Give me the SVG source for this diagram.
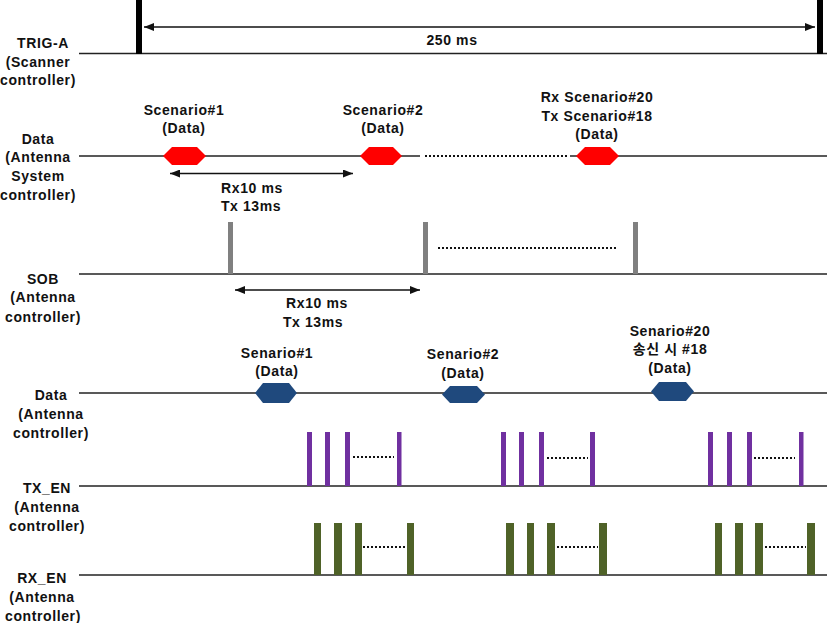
<svg xmlns="http://www.w3.org/2000/svg" width="827" height="623" viewBox="0 0 827 623">
<defs>
<style>
text{font-family:"Liberation Sans",Arial,"Noto Sans CJK KR",sans-serif;font-weight:bold;font-size:14px;letter-spacing:0.6px;fill:#111;text-anchor:middle}
.base{stroke:#222;stroke-width:1.6;fill:none}
.arr{stroke:#111;stroke-width:1.5;fill:none;marker-start:url(#ah);marker-end:url(#ah)}
.dot{stroke:#111;stroke-width:2;stroke-dasharray:2 2;fill:none}
.red{fill:#ff0000}
.blue{fill:#1f497d}
.sob{fill:#808080}
.tx{fill:#7030a0}
.rx{fill:#4f6228}
</style>
<marker id="ah" viewBox="0 0 10 8" refX="10" refY="4" markerWidth="10" markerHeight="8" markerUnits="userSpaceOnUse" orient="auto-start-reverse">
<path d="M0,0 L10,4 L0,8 Z" fill="#111"/>
</marker>
</defs>
<rect width="827" height="623" fill="#fff"/>

<g id="labels">
<text x="43" y="48">TRIG-A</text>
<text x="38" y="67">(Scanner</text>
<text x="38" y="85">controller)</text>

<text x="38" y="144">Data</text>
<text x="38" y="162">(Antenna</text>
<text x="38" y="181">System</text>
<text x="38" y="200">controller)</text>

<text x="43" y="284">SOB</text>
<text x="43" y="302">(Antenna</text>
<text x="43" y="322">controller)</text>

<text x="51" y="400">Data</text>
<text x="51" y="419">(Antenna</text>
<text x="51" y="438">controller)</text>

<text x="47" y="493">TX_EN</text>
<text x="47" y="512">(Antenna</text>
<text x="47" y="531">controller)</text>

<text x="42" y="583">RX_EN</text>
<text x="42" y="602">(Antenna</text>
<text x="43" y="621">controller)</text>
</g>

<g id="connectors">
<line class="base" x1="79" y1="53.5" x2="827" y2="53.5"/>
<line class="base" x1="79" y1="156" x2="420" y2="156"/>
<line class="base" x1="570" y1="156" x2="827" y2="156"/>
<line class="dot" x1="425" y1="156" x2="569" y2="156"/>
<line class="base" x1="79" y1="274" x2="827" y2="274"/>
<line class="base" x1="79" y1="393" x2="827" y2="393"/>
<line class="base" x1="79" y1="486" x2="827" y2="486"/>
<line class="base" x1="79" y1="575" x2="827" y2="575"/>

<line class="arr" x1="144" y1="27" x2="815" y2="27"/>
<line class="arr" x1="170" y1="173.5" x2="353" y2="173.5"/>
<line class="arr" x1="235" y1="290" x2="420" y2="290"/>

<line class="dot" x1="438" y1="248" x2="618" y2="248"/>
<line class="dot" x1="353" y1="457" x2="394" y2="457"/>
<line class="dot" x1="547" y1="458" x2="588" y2="458"/>
<line class="dot" x1="754" y1="458" x2="795" y2="458"/>
<line class="dot" x1="363" y1="547" x2="405" y2="547"/>
<line class="dot" x1="557" y1="547" x2="598" y2="547"/>
<line class="dot" x1="765" y1="547" x2="806" y2="547"/>
</g>

<g id="trig">
<rect x="136" y="0" width="6" height="54" fill="#000"/>
<rect x="817" y="0" width="6" height="54" fill="#000"/>
<text x="452" y="45">250 ms</text>
</g>

<g id="data-sys">
<polygon class="red" points="163,156 172,147 197,147 206,156 197,165 172,165"/>
<polygon class="red" points="360,156 369,147 393,147 402,156 393,165 369,165"/>
<polygon class="red" points="576,156 585,147 610,147 619,156 610,165 585,165"/>
<text x="184" y="115">Scenario#1</text>
<text x="184" y="133">(Data)</text>
<text x="383" y="115">Scenario#2</text>
<text x="383" y="133">(Data)</text>
<text x="597" y="102">Rx Scenario#20</text>
<text x="597" y="121">Tx Scenario#18</text>
<text x="597" y="139">(Data)</text>
<text x="252" y="193">Rx10 ms</text>
<text x="251" y="211">Tx 13ms</text>
</g>

<g id="sob">
<rect class="sob" x="228" y="222" width="5" height="52"/>
<rect class="sob" x="423" y="222" width="5" height="52"/>
<rect class="sob" x="633" y="222" width="5" height="52"/>
<text x="317" y="308">Rx10 ms</text>
<text x="313" y="327">Tx 13ms</text>
</g>

<g id="data-ant">
<polygon class="blue" points="255,393 263,383 289,383 297,393 289,403 263,403"/>
<polygon class="blue" points="442,394.5 450,386 477,386 485,394.5 477,403 450,403"/>
<polygon class="blue" points="651,391.5 659,382 686,382 694,391.5 686,401 659,401"/>
<text x="277" y="358">Senario#1</text>
<text x="277" y="376">(Data)</text>
<text x="463" y="359">Senario#2</text>
<text x="463" y="378">(Data)</text>
<text x="670" y="336">Senario#20</text>
<text x="670" y="354">송신 시 #18</text>
<text x="670" y="373">(Data)</text>
</g>

<g id="tx-en">
<rect class="tx" x="307" y="432" width="5" height="54"/>
<rect class="tx" x="325" y="432" width="5" height="54"/>
<rect class="tx" x="345" y="432" width="5" height="54"/>
<rect class="tx" x="397" y="432" width="4.5" height="54"/>
<rect class="tx" x="501" y="432" width="5" height="54"/>
<rect class="tx" x="519" y="432" width="5" height="54"/>
<rect class="tx" x="539" y="432" width="5" height="54"/>
<rect class="tx" x="590" y="432" width="5" height="54"/>
<rect class="tx" x="708" y="432" width="5" height="54"/>
<rect class="tx" x="727" y="432" width="5" height="54"/>
<rect class="tx" x="747" y="432" width="5" height="54"/>
<rect class="tx" x="799" y="432" width="4.5" height="54"/>
</g>

<g id="rx-en">
<rect class="rx" x="314" y="523" width="7" height="52"/>
<rect class="rx" x="334" y="523" width="8" height="52"/>
<rect class="rx" x="355" y="523" width="7" height="52"/>
<rect class="rx" x="407" y="523" width="7" height="52"/>
<rect class="rx" x="506" y="523" width="8" height="52"/>
<rect class="rx" x="527" y="523" width="7" height="52"/>
<rect class="rx" x="547" y="523" width="8" height="52"/>
<rect class="rx" x="599" y="523" width="8" height="52"/>
<rect class="rx" x="715" y="523" width="7" height="52"/>
<rect class="rx" x="735" y="523" width="8" height="52"/>
<rect class="rx" x="755" y="523" width="8" height="52"/>
<rect class="rx" x="807" y="523" width="8" height="52"/>
</g>
</svg>
